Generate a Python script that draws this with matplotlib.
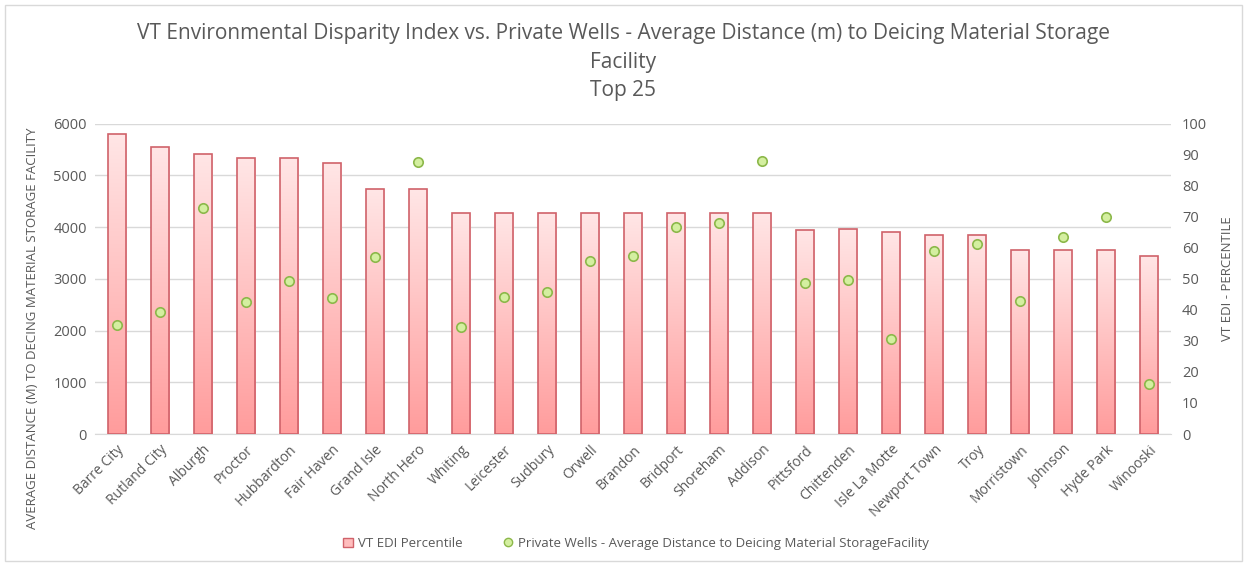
import numpy as np
import matplotlib
matplotlib.use("Agg")
from matplotlib import pyplot as plt
from matplotlib.patches import Rectangle
from matplotlib.lines import Line2D

plt.rcParams['font.family'] = ['Open Sans', 'DejaVu Sans']

towns = ["Barre City", "Rutland City", "Alburgh", "Proctor", "Hubbardton", "Fair Haven",
         "Grand Isle", "North Hero", "Whiting", "Leicester", "Sudbury", "Orwell", "Brandon",
         "Bridport", "Shoreham", "Addison", "Pittsford", "Chittenden", "Isle La Motte",
         "Newport Town", "Troy", "Morristown", "Johnson", "Hyde Park", "Winooski"]

# VT EDI percentile (right axis)
edi_pct = [96.6, 92.6, 90.1, 88.9, 88.9, 87.3, 78.9, 78.9, 71.2, 71.2, 71.2, 71.2, 71.2,
           71.2, 71.2, 71.2, 65.7, 66.0, 65.2, 64.1, 64.1, 59.3, 59.3, 59.3, 57.5]

# private wells - average distance (m) to deicing storage (left axis)
well_dist = [2100, 2360, 4360, 2550, 2965, 2620, 3415, 5265, 2070, 2655, 2750, 3340, 3450,
             3995, 4075, 5280, 2920, 2980, 1830, 3530, 3665, 2565, 3805, 4190, 965]

grey = "#595959"
x = np.arange(len(towns))

fig = plt.figure(figsize=(12.47, 5.66), dpi=100)
fig.patches.append(Rectangle((0.004, 0.008), 0.992, 0.984, transform=fig.transFigure,
                             fill=False, edgecolor="#D9D9D9", linewidth=1))

ax = fig.add_axes([0.0762, 0.2332, 0.8628, 0.5483])
ax.set_ylim(0, 6000)
ax.set_yticks(range(0, 6001, 1000))
ax.grid(axis="y", color="#D9D9D9", linewidth=1)
ax.set_axisbelow(True)

# bars on right axis
ax2 = ax.twinx()
ax2.patch.set_visible(False)
bars = ax2.bar(x, edi_pct, width=0.42, facecolor="none", edgecolor="#D0626A",
               linewidth=1.2, zorder=3)
grad = np.linspace(0, 1, 256).reshape(-1, 1)
cmap = matplotlib.colors.LinearSegmentedColormap.from_list("pk", ["#FF9C9C", "#FFE6E6"])
for b in bars:
    im = ax2.imshow(grad, cmap=cmap, origin="lower", aspect="auto", zorder=2,
                    extent=[b.get_x(), b.get_x() + b.get_width(), 0, b.get_height()])
    im.set_clip_path(b)
ax2.set_ylim(0, 100)
ax2.set_yticks(range(0, 101, 10))

# points on left scale
ax3 = ax.twinx()
ax3.patch.set_visible(False)
ax3.set_ylim(0, 6000)
ax3.scatter(x, well_dist, s=46, facecolor="#D4EFA0", edgecolor="#8CB84A",
            linewidth=1.2, zorder=5)
ax3.set_yticks([])

for a in (ax, ax2, ax3):
    a.set_xlim(-0.5, len(towns) - 0.5)
    for s in a.spines.values():
        s.set_visible(False)
ax.spines["bottom"].set_visible(True)
ax.spines["bottom"].set_color("#D9D9D9")

ax.set_xticks(x)
ax.set_xticklabels(towns, rotation=45, ha="right", rotation_mode="anchor",
                   fontsize=10, color=grey)
ax.tick_params(axis="both", length=0, pad=6)
ax.tick_params(axis="y", labelsize=10.5, labelcolor=grey)
ax2.tick_params(axis="y", length=0, labelsize=10.5, labelcolor=grey, pad=8)

ax.set_ylabel("AVERAGE DISTANCE (M) TO DECING MATERIAL STORAGE FACILITY",
              fontsize=9.5, color=grey, labelpad=12)
ax.yaxis.set_label_coords(-0.052, 0.34)
ax2.set_ylabel("VT EDI - PERCENTILE", fontsize=9.5, color=grey, labelpad=10)

fig.text(0.5, 0.94, "VT Environmental Disparity Index vs. Private Wells - Average Distance (m) to Deicing Material Storage",
         ha="center", va="center", fontsize=15, color=grey)
fig.text(0.5, 0.89, "Facility", ha="center", va="center", fontsize=15, color=grey)
fig.text(0.5, 0.84, "Top 25", ha="center", va="center", fontsize=15, color=grey)

handles = [Rectangle((0, 0), 1, 1, facecolor="#FFBDBD", edgecolor="#D0626A", linewidth=1),
           Line2D([], [], marker="o", linestyle="none", markersize=6,
                  markerfacecolor="#D4EFA0", markeredgecolor="#8CB84A")]
fig.legend(handles, ["VT EDI Percentile",
                     "Private Wells - Average Distance to Deicing Material StorageFacility"],
           loc="center", bbox_to_anchor=(0.51, 0.04), ncol=2, frameon=False,
           fontsize=9.5, labelcolor=grey, handlelength=0.8, handletextpad=0.4,
           columnspacing=3)

fig.savefig("out.png", dpi=100)
